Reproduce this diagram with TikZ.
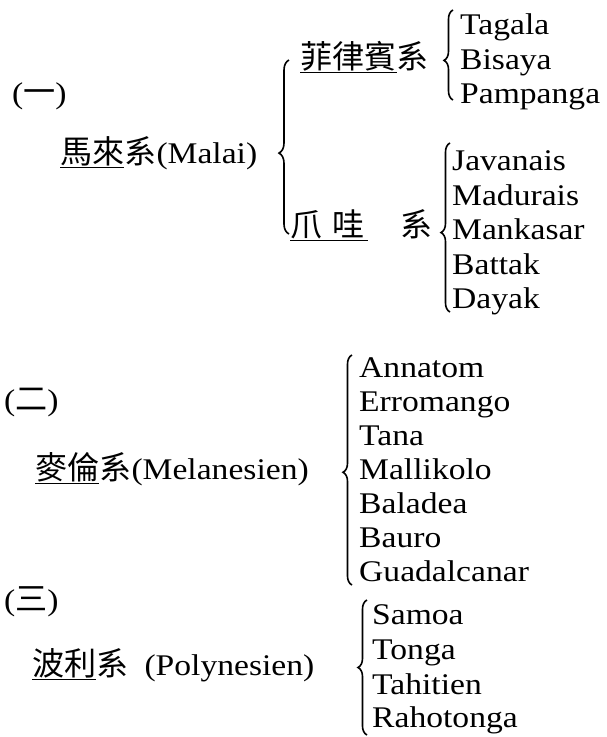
\documentclass[tikz,border=0pt]{standalone}
\usepackage{fontspec}
\setmainfont{Liberation Serif}[FakeStretch=1.12]
\newfontfamily\cjk{Noto Sans CJK TC}[Scale=1.07]
\usetikzlibrary{decorations.pathreplacing}
\tikzset{
  lbl/.style={anchor=base west, inner sep=0pt, font=\fontsize{30}{34}\selectfont},
  itm/.style={lbl},
  br/.style={decorate, decoration={brace, amplitude=#1}, line width=1.6pt},
  br/.default=9pt,
}
\begin{document}
\begin{tikzpicture}[x=1pt,y=-1pt]
\useasboundingbox (0,0) rectangle (607,737);
% group 1
\node[lbl] (n1) at (12,103) {({\cjk 一})};
\node[lbl] (malai) at (60,163) {{\cjk\underline{馬來}系}(Malai)};
\node[lbl] (phil) at (300,68) {{\cjk\underline{菲律賓}系}};
\node[lbl] (java) at (290,236) {{\cjk\underline{爪\hspace{10pt}哇\hspace{4pt}}\hspace{32pt}系}};
\node[itm] (tagala) at (460,34) {Tagala};
\node[itm] (bisaya) at (460,69) {Bisaya};
\node[itm] (pampanga) at (460,103) {Pampanga};
\node[itm] (javanais) at (452,170) {Javanais};
\node[itm] (madurais) at (452,205) {Madurais};
\node[itm] (mankasar) at (452,239) {Mankasar};
\node[itm] (battak) at (452,274) {Battak};
\node[itm] (dayak) at (452,308) {Dayak};
% group 2
\node[lbl] (n2) at (4,410) {({\cjk 二})};
\node[lbl] (mela) at (35,479) {{\cjk\underline{麥倫}系}(Melanesien)};
\node[itm] (annatom) at (359,377) {Annatom};
\node[itm] (erromango) at (359,411) {Erromango};
\node[itm] (tana) at (359,445) {Tana};
\node[itm] (mallikolo) at (359,479) {Mallikolo};
\node[itm] (baladea) at (359,513) {Baladea};
\node[itm] (bauro) at (359,547) {Bauro};
\node[itm] (guadal) at (359,581) {Guadalcanar};
% group 3
\node[lbl] (n3) at (4,610) {({\cjk 三})};
\node[lbl] (poly) at (32,675) {{\cjk\underline{波利}系}\hspace{16pt}(Polynesien)};
\node[itm] (samoa) at (372,624) {Samoa};
\node[itm] (tonga) at (372,659) {Tonga};
\node[itm] (tahitien) at (372,694) {Tahitien};
\node[itm] (rahotonga) at (372,727) {Rahotonga};
% braces
\coordinate (b1s) at (289,234); \coordinate (b1e) at (289,60);
\coordinate (b2s) at (453,100); \coordinate (b2e) at (453,10);
\coordinate (b3s) at (450,312); \coordinate (b3e) at (450,143);
\coordinate (b4s) at (352,585); \coordinate (b4e) at (352,355);
\coordinate (b5s) at (367,735); \coordinate (b5e) at (367,600);
\draw[br=10pt, decoration={aspect=0.465}] (b1s) -- (b1e);
\draw[br=9pt, decoration={aspect=0.44}] (b2s) -- (b2e);
\draw[br=9pt, decoration={aspect=0.47}] (b3s) -- (b3e);
\draw[br=9pt, decoration={aspect=0.49}] (b4s) -- (b4e);
\draw[br=9pt, decoration={aspect=0.5}] (b5s) -- (b5e);
\end{tikzpicture}
\end{document}
